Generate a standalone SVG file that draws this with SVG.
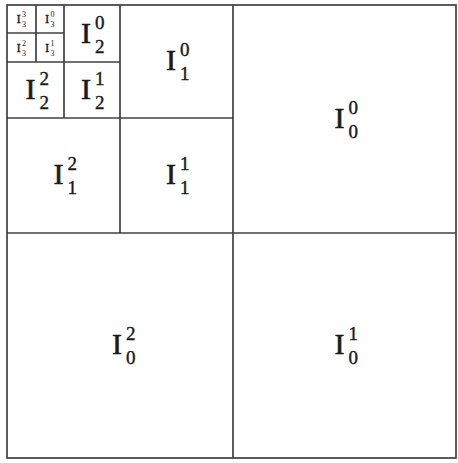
<svg xmlns="http://www.w3.org/2000/svg" width="458" height="463" viewBox="0 0 458 463">
<style>
.ln{stroke:#404040;stroke-width:1.7;fill:none}
.I{font-family:"Liberation Serif","Times New Roman",serif;font-size:30px;fill:#1a1a1a;stroke:#1a1a1a;stroke-width:0.6}
.d{font-family:"Liberation Serif","Times New Roman",serif;font-size:19px;fill:#1a1a1a;stroke:#1a1a1a;stroke-width:0.4}
.Is{font-family:"Liberation Serif","Times New Roman",serif;font-size:13px;fill:#1a1a1a;stroke:#1a1a1a;stroke-width:0.3}
.ds{font-family:"Liberation Serif","Times New Roman",serif;font-size:8px;fill:#1a1a1a}
</style>
<rect width="458" height="463" fill="#ffffff"/>
<g id="connectors">
<rect class="ln" x="7" y="5" width="449" height="453"/>
<line class="ln" x1="233" y1="5" x2="233" y2="458"/>
<line class="ln" x1="7" y1="233" x2="456" y2="233"/>
<line class="ln" x1="120" y1="5" x2="120" y2="233"/>
<line class="ln" x1="7" y1="118" x2="233" y2="118"/>
<line class="ln" x1="64" y1="5" x2="64" y2="118"/>
<line class="ln" x1="7" y1="62" x2="120" y2="62"/>
<line class="ln" x1="36" y1="5" x2="36" y2="62"/>
<line class="ln" x1="7" y1="33" x2="64" y2="33"/>
</g>
<g id="I00"><text class="I" x="334.5" y="128">I</text><text class="d" x="348.5" y="114">0</text><text class="d" x="348.5" y="138">0</text></g>
<g id="I01"><text class="I" x="334.5" y="354">I</text><text class="d" x="348.5" y="340">1</text><text class="d" x="348.5" y="364">0</text></g>
<g id="I02"><text class="I" x="112" y="354">I</text><text class="d" x="126" y="340">2</text><text class="d" x="126" y="364">0</text></g>
<g id="I10"><text class="I" x="166" y="70">I</text><text class="d" x="180" y="56">0</text><text class="d" x="180" y="80">1</text></g>
<g id="I11"><text class="I" x="166" y="184">I</text><text class="d" x="180" y="170">1</text><text class="d" x="180" y="194">1</text></g>
<g id="I12"><text class="I" x="53.5" y="184">I</text><text class="d" x="67.5" y="170">2</text><text class="d" x="67.5" y="194">1</text></g>
<g id="I20"><text class="I" x="81" y="43">I</text><text class="d" x="95" y="29">0</text><text class="d" x="95" y="53">2</text></g>
<g id="I21"><text class="I" x="81" y="99">I</text><text class="d" x="95" y="85">1</text><text class="d" x="95" y="109">2</text></g>
<g id="I22"><text class="I" x="25.5" y="99">I</text><text class="d" x="39.5" y="85">2</text><text class="d" x="39.5" y="109">2</text></g>
<g id="I33"><text class="Is" x="16.5" y="23">I</text><text class="ds" x="22" y="17">3</text><text class="ds" x="22" y="27">3</text></g>
<g id="I30"><text class="Is" x="45" y="23">I</text><text class="ds" x="50.5" y="17">0</text><text class="ds" x="50.5" y="27">3</text></g>
<g id="I32"><text class="Is" x="16.5" y="51.5">I</text><text class="ds" x="22" y="45.5">2</text><text class="ds" x="22" y="55.5">3</text></g>
<g id="I31"><text class="Is" x="45" y="51.5">I</text><text class="ds" x="50.5" y="45.5">1</text><text class="ds" x="50.5" y="55.5">3</text></g>
</svg>
